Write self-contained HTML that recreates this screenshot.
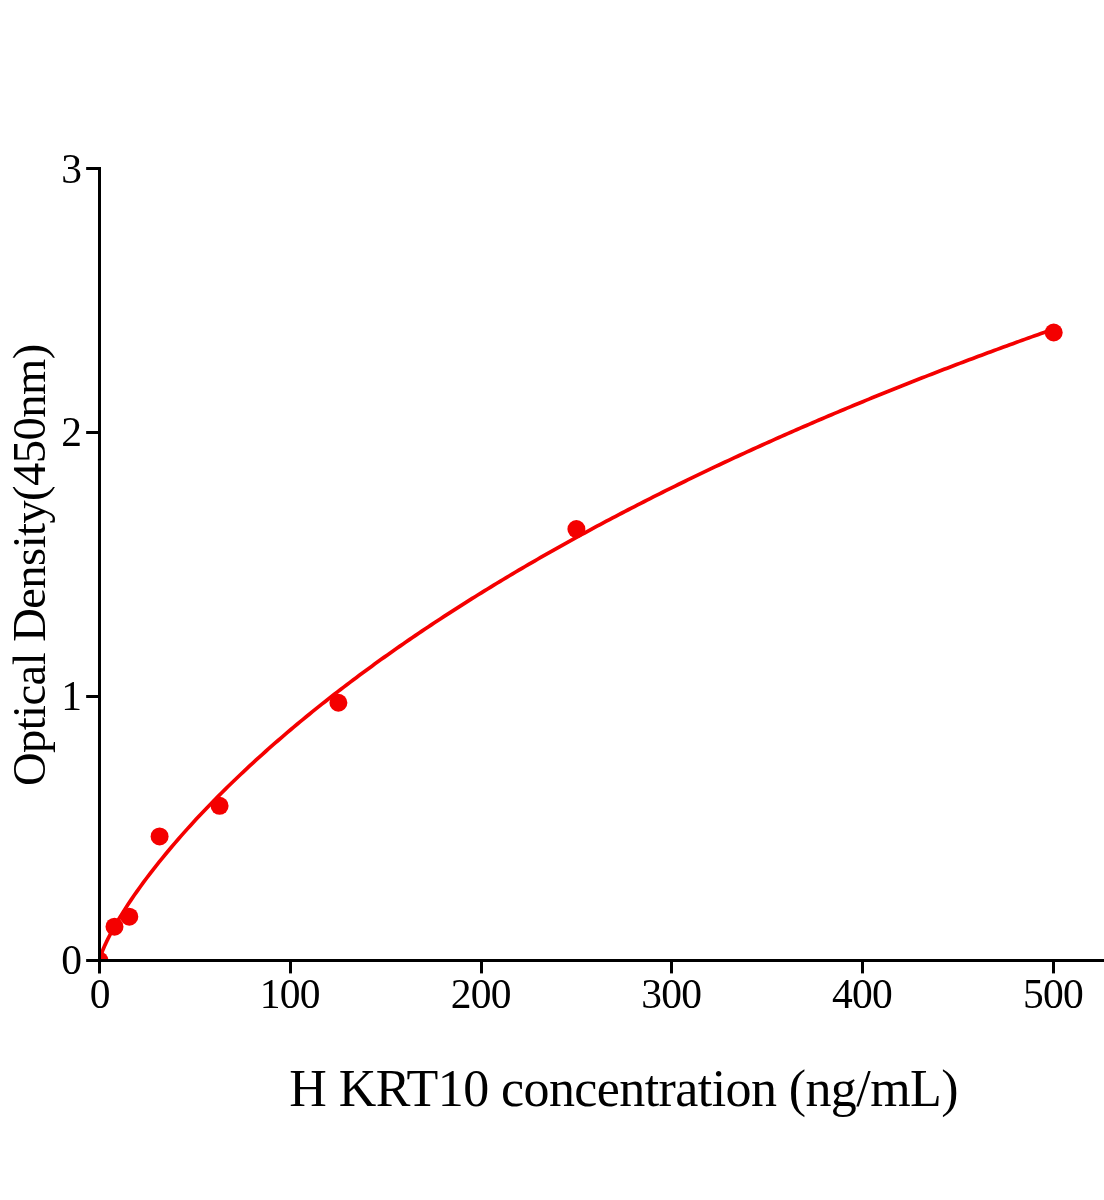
<!DOCTYPE html>
<html><head><meta charset="utf-8"><title>H KRT10 standard curve</title>
<style>
html,body{margin:0;padding:0;background:#fff;}
body{width:1104px;height:1200px;overflow:hidden;}
svg{display:block;will-change:transform;}
text{font-family:"Liberation Serif",serif;fill:#000;}
</style></head><body>
<svg width="1104" height="1200" viewBox="0 0 1104 1200">
<rect width="1104" height="1200" fill="#fff"/>
<defs><clipPath id="plot"><rect x="99.50" y="0" width="1104" height="960.50"/></clipPath></defs>

<g clip-path="url(#plot)">
<path d="M99.50 960.50 L99.82 958.88 L100.15 957.68 L100.47 956.61 L100.79 955.61 L101.12 954.66 L101.44 953.75 L101.76 952.87 L102.09 952.01 L102.41 951.18 L102.73 950.37 L103.06 949.58 L103.38 948.80 L103.70 948.03 L104.03 947.28 L104.35 946.54 L104.67 945.81 L105.00 945.08 L105.32 944.37 L105.64 943.67 L105.97 942.97 L106.29 942.28 L106.61 941.60 L106.94 940.93 L107.26 940.26 L107.58 939.60 L107.91 938.94 L108.23 938.29 L108.55 937.65 L108.88 937.01 L109.20 936.37 L109.53 935.74 L109.85 935.12 L110.17 934.50 L110.50 933.88 L110.82 933.27 L111.14 932.66 L111.47 932.05 L111.79 931.45 L112.11 930.85 L112.44 930.26 L112.76 929.67 L113.08 929.08 L113.41 928.49 L113.73 927.91 L114.05 927.33 L114.38 926.76 L114.70 926.18 L115.02 925.61 L115.35 925.05 L115.67 924.48 L115.99 923.92 L116.32 923.36 L116.64 922.81 L116.96 922.25 L117.29 921.70 L117.61 921.15 L117.93 920.60 L118.26 920.06 L118.58 919.52 L121.71 914.38 L124.83 909.41 L127.96 904.59 L131.09 899.90 L134.21 895.33 L137.34 890.87 L140.47 886.50 L143.59 882.21 L146.72 878.01 L149.85 873.89 L152.98 869.83 L156.10 865.84 L159.23 861.91 L162.36 858.04 L165.48 854.22 L168.61 850.46 L171.74 846.75 L174.86 843.08 L177.99 839.47 L181.12 835.89 L184.24 832.36 L187.37 828.86 L190.50 825.41 L193.62 821.99 L196.75 818.61 L199.88 815.26 L203.00 811.95 L206.13 808.67 L209.26 805.42 L212.38 802.21 L215.51 799.02 L218.64 795.86 L221.77 792.73 L224.89 789.63 L228.02 786.55 L231.15 783.50 L234.27 780.48 L237.40 777.47 L240.53 774.50 L243.65 771.55 L246.78 768.62 L249.91 765.71 L253.03 762.83 L256.16 759.96 L259.29 757.12 L262.41 754.30 L265.54 751.50 L268.67 748.72 L271.79 745.96 L274.92 743.21 L278.05 740.49 L281.17 737.78 L284.30 735.10 L287.43 732.43 L290.56 729.78 L293.68 727.14 L296.81 724.52 L299.94 721.92 L303.06 719.34 L306.19 716.77 L309.32 714.22 L312.44 711.68 L315.57 709.16 L318.70 706.65 L321.82 704.16 L324.95 701.68 L328.08 699.22 L331.20 696.77 L334.33 694.33 L337.46 691.91 L340.58 689.50 L343.71 687.11 L346.84 684.73 L349.96 682.36 L353.09 680.01 L356.22 677.66 L359.35 675.33 L362.47 673.02 L365.60 670.71 L368.73 668.42 L371.85 666.14 L374.98 663.87 L378.11 661.61 L381.23 659.36 L384.36 657.13 L387.49 654.90 L390.61 652.69 L393.74 650.49 L396.87 648.30 L399.99 646.12 L403.12 643.95 L406.25 641.79 L409.37 639.64 L412.50 637.50 L415.63 635.37 L418.75 633.25 L421.88 631.14 L425.01 629.04 L428.14 626.95 L431.26 624.87 L434.39 622.80 L437.52 620.74 L440.64 618.69 L443.77 616.65 L446.90 614.62 L450.02 612.59 L453.15 610.58 L456.28 608.57 L459.40 606.57 L462.53 604.58 L465.66 602.60 L468.78 600.63 L471.91 598.67 L475.04 596.71 L478.16 594.76 L481.29 592.83 L484.42 590.89 L487.55 588.97 L490.67 587.06 L493.80 585.15 L496.93 583.25 L500.05 581.36 L503.18 579.48 L506.31 577.60 L509.43 575.73 L512.56 573.87 L515.69 572.02 L518.81 570.17 L521.94 568.33 L525.07 566.50 L528.19 564.68 L531.32 562.86 L534.45 561.05 L537.57 559.25 L540.70 557.45 L543.83 555.66 L546.95 553.88 L550.08 552.10 L553.21 550.33 L556.34 548.57 L559.46 546.81 L562.59 545.06 L565.72 543.32 L568.84 541.58 L571.97 539.85 L575.10 538.13 L578.22 536.41 L581.35 534.70 L584.48 533.00 L587.60 531.30 L590.73 529.61 L593.86 527.92 L596.98 526.24 L600.11 524.56 L603.24 522.90 L606.36 521.23 L609.49 519.58 L612.62 517.92 L615.74 516.28 L618.87 514.64 L622.00 513.01 L625.13 511.38 L628.25 509.76 L631.38 508.14 L634.51 506.53 L637.63 504.92 L640.76 503.32 L643.89 501.73 L647.01 500.14 L650.14 498.55 L653.27 496.97 L656.39 495.40 L659.52 493.83 L662.65 492.27 L665.77 490.71 L668.90 489.15 L672.03 487.61 L675.15 486.06 L678.28 484.53 L681.41 482.99 L684.53 481.47 L687.66 479.94 L690.79 478.42 L693.92 476.91 L697.04 475.40 L700.17 473.90 L703.30 472.40 L706.42 470.91 L709.55 469.42 L712.68 467.93 L715.80 466.45 L718.93 464.98 L722.06 463.51 L725.18 462.04 L728.31 460.58 L731.44 459.12 L734.56 457.67 L737.69 456.22 L740.82 454.78 L743.94 453.34 L747.07 451.90 L750.20 450.47 L753.33 449.05 L756.45 447.62 L759.58 446.21 L762.71 444.79 L765.83 443.38 L768.96 441.98 L772.09 440.58 L775.21 439.18 L778.34 437.79 L781.47 436.40 L784.59 435.02 L787.72 433.64 L790.85 432.26 L793.97 430.89 L797.10 429.52 L800.23 428.16 L803.35 426.80 L806.48 425.44 L809.61 424.09 L812.73 422.74 L815.86 421.39 L818.99 420.05 L822.12 418.72 L825.24 417.38 L828.37 416.05 L831.50 414.73 L834.62 413.41 L837.75 412.09 L840.88 410.77 L844.00 409.46 L847.13 408.15 L850.26 406.85 L853.38 405.55 L856.51 404.25 L859.64 402.96 L862.76 401.67 L865.89 400.39 L869.02 399.11 L872.14 397.83 L875.27 396.55 L878.40 395.28 L881.52 394.01 L884.65 392.75 L887.78 391.49 L890.91 390.23 L894.03 388.97 L897.16 387.72 L900.29 386.47 L903.41 385.23 L906.54 383.99 L909.67 382.75 L912.79 381.52 L915.92 380.29 L919.05 379.06 L922.17 377.83 L925.30 376.61 L928.43 375.39 L931.55 374.18 L934.68 372.97 L937.81 371.76 L940.93 370.55 L944.06 369.35 L947.19 368.15 L950.31 366.95 L953.44 365.76 L956.57 364.57 L959.70 363.38 L962.82 362.20 L965.95 361.02 L969.08 359.84 L972.20 358.66 L975.33 357.49 L978.46 356.32 L981.58 355.15 L984.71 353.99 L987.84 352.83 L990.96 351.67 L994.09 350.52 L997.22 349.37 L1000.34 348.22 L1003.47 347.07 L1006.60 345.93 L1009.72 344.79 L1012.85 343.65 L1015.98 342.52 L1019.10 341.38 L1022.23 340.26 L1025.36 339.13 L1028.49 338.01 L1031.61 336.88 L1034.74 335.77 L1037.87 334.65 L1040.99 333.54 L1044.12 332.43 L1047.25 331.32 L1050.37 330.22 L1053.50 329.11" fill="none" stroke="#f40000" stroke-width="3.70" stroke-linejoin="round" stroke-linecap="butt"/>
<circle cx="99.50" cy="960.50" r="9.00" fill="#f40000"/>
<circle cx="114.50" cy="926.65" r="9.00" fill="#f40000"/>
<circle cx="129.30" cy="916.65" r="9.00" fill="#f40000"/>
<circle cx="159.60" cy="836.45" r="9.00" fill="#f40000"/>
<circle cx="219.60" cy="805.80" r="9.00" fill="#f40000"/>
<circle cx="338.40" cy="702.75" r="9.00" fill="#f40000"/>
<circle cx="576.40" cy="529.10" r="9.00" fill="#f40000"/>
<circle cx="1053.70" cy="332.50" r="9.00" fill="#f40000"/>
</g>
<g stroke="#000" stroke-width="3.00" fill="none" stroke-linecap="butt">
<line x1="99.50" y1="167.00" x2="99.50" y2="973.40"/>
<line x1="86.15" y1="960.50" x2="1104" y2="960.50"/>
<line x1="86.15" y1="696.50" x2="99.50" y2="696.50"/>
<line x1="86.15" y1="432.50" x2="99.50" y2="432.50"/>
<line x1="86.15" y1="168.50" x2="99.50" y2="168.50"/>
<line x1="290.50" y1="960.50" x2="290.50" y2="973.40"/>
<line x1="481.50" y1="960.50" x2="481.50" y2="973.40"/>
<line x1="671.50" y1="960.50" x2="671.50" y2="973.40"/>
<line x1="862.50" y1="960.50" x2="862.50" y2="973.40"/>
<line x1="1053.50" y1="960.50" x2="1053.50" y2="973.40"/>
</g>
<text x="82.0" y="974.05" font-size="41.5" text-anchor="end">0</text>
<text x="82.0" y="709.50" font-size="41.5" text-anchor="end">1</text>
<text x="82.0" y="445.75" font-size="41.5" text-anchor="end">2</text>
<text x="82.0" y="182.50" font-size="41.5" text-anchor="end">3</text>
<text x="89.67" y="1008.1" font-size="41.5" letter-spacing="-0.75">0</text>
<text x="259.75" y="1008.1" font-size="41.5" letter-spacing="-0.75">100</text>
<text x="450.85" y="1008.1" font-size="41.5" letter-spacing="-0.75">200</text>
<text x="641.17" y="1008.1" font-size="41.5" letter-spacing="-0.75">300</text>
<text x="832.00" y="1008.1" font-size="41.5" letter-spacing="-0.75">400</text>
<text x="1022.97" y="1008.1" font-size="41.5" letter-spacing="-0.75">500</text>
<text x="289.30" y="1105.7" font-size="52.0" letter-spacing="-0.59">H KRT10 concentration (ng/mL)</text>
<text transform="translate(44.55 565.00) rotate(-90)" x="-221.12" y="0" font-size="46.6" letter-spacing="-0.567">Optical Density(450nm)</text>
</svg></body></html>
